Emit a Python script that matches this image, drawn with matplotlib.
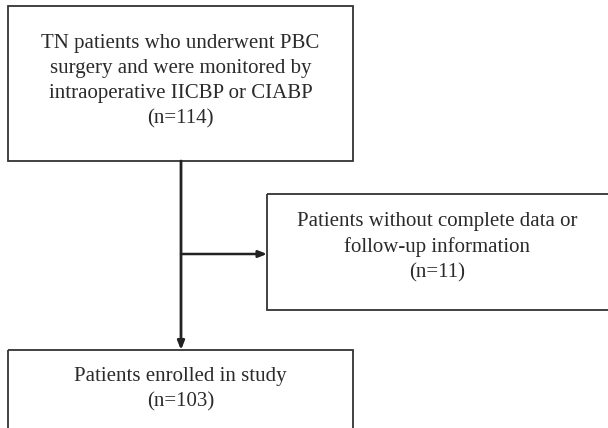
import matplotlib
matplotlib.use("Agg")
import matplotlib.pyplot as plt
from matplotlib.patches import Rectangle

box_texts = [
    "TN patients who underwent PBC\nsurgery and were monitored by\nintraoperative IICBP or CIABP\n(n=114)",
    "Patients without complete data or\nfollow-up information\n(n=11)",
    "Patients enrolled in study\n(n=103)",
]
counts = [114, 11, 103]

fig = plt.figure(figsize=(6.08, 4.28), dpi=100)
ax = fig.add_axes([0, 0, 1, 1])
ax.set_xlim(0, 608)
ax.set_ylim(428, 0)
ax.axis("off")

edge = "#333333"
lw_box = 1.3
font = dict(family="Liberation Serif", fontsize=15.0, color="#2a2a2a",
            ha="center", va="center", linespacing=1.42)

# top box
ax.add_patch(Rectangle((8, 6), 345, 155, fill=False, ec=edge, lw=lw_box))
ax.text(180.5, 81, box_texts[0], **font)

# side box (extends past right edge)
ax.add_patch(Rectangle((267, 194), 360, 116, fill=False, ec=edge, lw=lw_box))
ax.text(437, 247, box_texts[1], **font)

# bottom box (extends past bottom)
ax.add_patch(Rectangle((8, 350), 345, 100, fill=False, ec=edge, lw=lw_box))
ax.text(180.5, 389, box_texts[2], **font)

# vertical line with arrow
ax.annotate("", xy=(181, 350), xytext=(181, 161),
            arrowprops=dict(arrowstyle="-|>,head_length=0.5,head_width=0.2",
                            color="#222222", lw=2.0, shrinkA=0, shrinkB=0))
# horizontal branch arrow
ax.annotate("", xy=(267, 254), xytext=(181, 254),
            arrowprops=dict(arrowstyle="-|>,head_length=0.5,head_width=0.2",
                            color="#222222", lw=1.8, shrinkA=0, shrinkB=0))

fig.savefig("out.png", dpi=100)
